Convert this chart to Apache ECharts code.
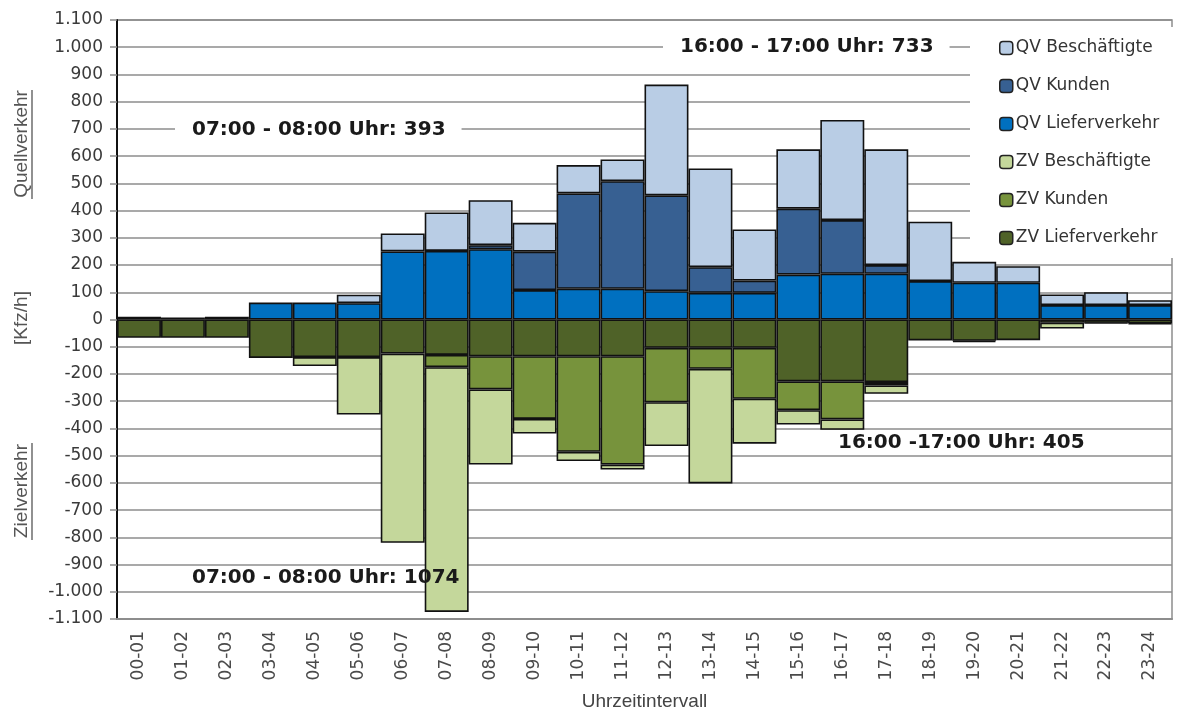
<!DOCTYPE html>
<html>
<head>
<meta charset="utf-8">
<script src="https://cdn.jsdelivr.net/npm/echarts@6.0.0/dist/echarts.min.js"></script>
<style>
html,body{margin:0;padding:0;background:#fff;}
#chart{width:1178px;height:713px;}
</style>
</head>
<body>
<div id="chart"></div>
<script>
// ---- data ----
const categories = ['00-01','01-02','02-03','03-04','04-05','05-06','06-07','07-08','08-09','09-10','10-11','11-12','12-13','13-14','14-15','15-16','16-17','17-18','18-19','19-20','20-21','21-22','22-23','23-24'];

// Quellverkehr (positive)
const qvLiefer = [10, 7, 10, 62, 62, 60, 250, 252, 258, 108, 113, 113, 104, 98, 98, 165, 168, 168, 141, 135, 135, 53, 53, 53];
const qvKunden = [0, 0, 0, 0, 0, 0, 0, 0, 15, 141, 350, 395, 352, 94, 45, 242, 197, 32, 0, 0, 0, 0, 0, 0];
const qvBesch  = [0, 0, 0, 0, 0, 31, 66, 141, 165, 106, 104, 80, 407, 363, 188, 218, 368, 425, 218, 77, 61, 39, 47, 18];

// Zielverkehr (negative)
const zvLiefer = [-67, -67, -67, -141, -138, -138, -125, -130, -135, -135, -135, -135, -104, -104, -104, -227, -227, -230, -77, -78, -76, -12, -12, -14];
const zvKunden = [0, 0, 0, 0, 0, 0, 0, -45, -122, -230, -351, -398, -200, -77, -187, -106, -140, -12, 0, -5, 0, 0, -2, -3];
const zvBesch  = [0, 0, 0, 0, -33, -211, -695, -899, -276, -54, -34, -18, -161, -421, -165, -53, -38, -31, 0, 0, 0, -21, 0, 0];

const yMin = -1100, yMax = 1100, yStep = 100;

const annotations = [
  '07:00 - 08:00 Uhr: 393',
  '16:00 - 17:00 Uhr: 733',
  '16:00 -17:00 Uhr: 405',
  '07:00 - 08:00 Uhr: 1074'
];

// ---- chart ----
const chart = echarts.init(document.getElementById('chart'), null, {renderer: 'canvas'});
const nz = arr => arr.map(v => (v === 0 ? '-' : v));
const border = {borderColor: '#111', borderWidth: 1.6};
function mk(name, data, color) {
  return {
    name, type: 'bar', stack: 'total', data: nz(data),
    barWidth: '100%', barCategoryGap: '0%',
    itemStyle: Object.assign({color}, border),
    emphasis: {disabled: true}
  };
}
const gridGray = '#8d8d8d';
const sansFont = '"DejaVu Sans", sans-serif';
const annFont = 'bold 20px "DejaVu Sans", sans-serif';

chart.setOption({
  animation: false,
  backgroundColor: '#fff',
  grid: {left: 117, right: 6, top: 20, bottom: 94, show: true, borderColor: gridGray, borderWidth: 1.5,
    backgroundColor: 'transparent', containLabel: false, outerBoundsMode: 'none'},
  legend: {
    orient: 'vertical', left: 970, top: 27,
    padding: [12, 20, 11, 29],
    backgroundColor: '#fff',
    itemWidth: 13, itemHeight: 13, itemGap: 20,
    data: ['QV Beschäftigte', 'QV Kunden', 'QV Lieferverkehr', 'ZV Beschäftigte', 'ZV Kunden', 'ZV Lieferverkehr'],
    textStyle: {fontFamily: sansFont, fontSize: 17, color: '#333', lineHeight: 18, padding: [0,0,0,-2]},
    itemStyle: {borderColor: '#222', borderWidth: 1.5},
    selectedMode: false
  },
  xAxis: {
    type: 'category', data: categories,
    axisLine: {onZero: false, lineStyle: {color: gridGray, width: 2}},
    axisTick: {show: false},
    axisLabel: {rotate: 90, interval: 0, fontFamily: sansFont, fontSize: 17, color: '#4a4a4a', margin: 12},
    name: 'Uhrzeitintervall', nameLocation: 'middle', nameGap: 73,
    nameTextStyle: {fontFamily: '"Liberation Sans", Arial, sans-serif', fontSize: 19, color: '#444'}
  },
  yAxis: {
    type: 'value', min: yMin, max: yMax, interval: yStep,
    axisLine: {show: true, lineStyle: {color: '#111', width: 2}},
    axisTick: {show: true, length: 7, lineStyle: {color: gridGray, width: 1.5}},
    splitLine: {show: true, lineStyle: {color: gridGray, width: 1.5}},
    axisLabel: {
      fontFamily: sansFont, fontSize: 17, color: '#3a3a3a', margin: 14,
      formatter: v => String(v).replace(/\B(?=(\d{3})+(?!\d))/g, '.')
    }
  },
  series: [
    mk('QV Lieferverkehr', qvLiefer, '#0070C0'),
    mk('QV Kunden', qvKunden, '#376092'),
    mk('QV Beschäftigte', qvBesch, '#B9CDE5'),
    mk('ZV Lieferverkehr', zvLiefer, '#4F6228'),
    mk('ZV Kunden', zvKunden, '#77933C'),
    mk('ZV Beschäftigte', zvBesch, '#C4D79B')
  ],
  graphic: [
    {type: 'text', x: 22, y: 144, rotation: Math.PI / 2, z: 10,
      style: {text: 'Quellverkehr', font: '19px "Liberation Sans", Arial, sans-serif', fill: '#555', align: 'center', verticalAlign: 'middle'}},
    {type: 'line', z: 10, shape: {x1: 32, y1: 90, x2: 32, y2: 199}, style: {stroke: '#555', lineWidth: 1.3}},
    {type: 'text', x: 22, y: 318, rotation: Math.PI / 2, z: 10,
      style: {text: '[Kfz/h]', font: '19px "Liberation Sans", Arial, sans-serif', fill: '#555', align: 'center', verticalAlign: 'middle'}},
    {type: 'text', x: 22, y: 491, rotation: Math.PI / 2, z: 10,
      style: {text: 'Zielverkehr', font: '19px "Liberation Sans", Arial, sans-serif', fill: '#555', align: 'center', verticalAlign: 'middle'}},
    {type: 'line', z: 10, shape: {x1: 32, y1: 443, x2: 32, y2: 540}, style: {stroke: '#555', lineWidth: 1.3}},

    {type: 'text', x: 175, y: 130, z: 20,
      style: {text: annotations[0], font: annFont, fill: '#1a1a1a', align: 'left', verticalAlign: 'middle', backgroundColor: '#fff', padding: [3, 16, 3, 17]}},
    {type: 'text', x: 663, y: 47, z: 20,
      style: {text: annotations[1], font: annFont, fill: '#1a1a1a', align: 'left', verticalAlign: 'middle', backgroundColor: '#fff', padding: [3, 16, 3, 17]}},
    {type: 'text', x: 838, y: 443, z: 20,
      style: {text: annotations[2], font: annFont, fill: '#1a1a1a', align: 'left', verticalAlign: 'middle'}},
    {type: 'text', x: 192, y: 578, z: 20,
      style: {text: annotations[3], font: annFont, fill: '#1a1a1a', align: 'left', verticalAlign: 'middle'}}
  ]
});
</script>
</body>
</html>
